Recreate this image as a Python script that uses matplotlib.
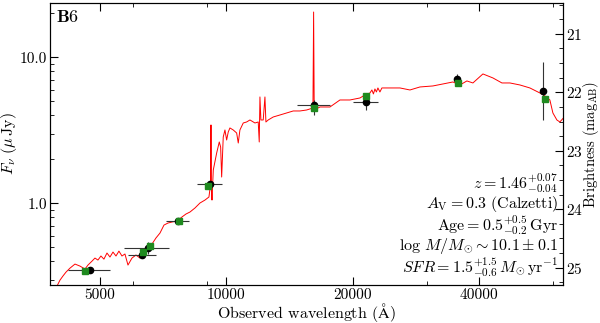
import numpy as np
import matplotlib
matplotlib.use("Agg")
import matplotlib.pyplot as plt
from matplotlib.ticker import FixedLocator, FixedFormatter, LogLocator, NullFormatter, MultipleLocator

plt.rcParams['font.family'] = 'serif'
plt.rcParams['font.serif'] = ['cmr10', 'DejaVu Serif']
plt.rcParams['mathtext.fontset'] = 'cm'
plt.rcParams['axes.unicode_minus'] = False
plt.rcParams['axes.formatter.use_mathtext'] = True

# model spectrum (Angstrom, microJy)
model_wave = [3906, 4014, 4080, 4148, 4240, 4358, 4479, 4604, 4680, 4784, 4863, 4943, 5025, 5108,
              5194, 5280, 5368, 5457, 5546, 5639, 5732, 5828, 5957, 6089, 6223, 6362, 6503, 6647,
              6794, 6946, 7100, 7257, 7418, 7624, 7834, 8009, 8187, 8414, 8648, 8889, 9085, 9162,
              9187, 9212, 9238, 9304, 9478, 9614, 9687, 9741, 9826, 9918, 10011, 10099, 10193,
              10380, 10576, 10669, 10767, 10965, 11171, 11376, 11692, 11904, 11970, 12016, 12080,
              12234, 12350, 12416, 12574, 12923, 13409, 13910, 14423, 14962, 15524, 16069, 16128,
              16181, 16696, 17640, 18632, 19679, 20791, 21370, 21963, 22203, 22387, 22573, 22757,
              22946, 23200, 23453, 24064, 25894, 27352, 28892, 31024, 32772, 34618, 35975, 37377,
              38629, 40808, 43106, 45290, 47315, 49981, 52796, 55770, 57320, 58909, 59893, 61219,
              62230, 63445]
model_flux = [0.255, 0.298, 0.318, 0.338, 0.360, 0.384, 0.372, 0.355, 0.378, 0.402, 0.422, 0.409,
              0.436, 0.415, 0.457, 0.429, 0.464, 0.436, 0.471, 0.436, 0.450, 0.378, 0.422, 0.443,
              0.422, 0.464, 0.494, 0.526, 0.579, 0.626, 0.710, 0.733, 0.745, 0.756, 0.806, 0.845,
              0.872, 0.929, 1.005, 1.053, 1.105, 1.335, 3.44, 1.233, 1.053, 1.691, 2.211, 2.630,
              2.430, 1.514, 2.845, 3.178, 2.714, 3.078, 3.281, 3.178, 3.030, 2.588, 3.178, 3.548,
              3.605, 3.721, 3.548, 3.605, 2.630, 5.348, 3.721, 3.721, 5.348, 3.605, 3.721, 3.900,
              4.025, 4.155, 4.288, 4.288, 4.355, 4.495, 20.4, 4.355, 4.566, 4.566, 5.099, 5.099,
              5.262, 5.517, 5.694, 5.970, 5.607, 6.066, 5.786, 6.163, 5.786, 6.163, 6.163, 6.163,
              5.970, 6.260, 6.361, 6.563, 6.773, 6.461, 6.883, 6.668, 7.686, 7.217, 6.668, 6.668,
              6.461, 6.163, 5.694, 5.432, 5.099, 4.155, 3.721, 3.605, 3.838]

# observed photometry
obs_wave = [4732, 6302, 6493, 7654, 9135, 16155, 21450, 35330, 56800]
obs_flux = [0.349, 0.440, 0.492, 0.756, 1.356, 4.713, 4.966, 7.068, 5.905]
obs_wave_lo = [4195, 5818, 5702, 7166, 8520, 14720, 20040, 35330, 56800]
obs_wave_hi = [5280, 6783, 7309, 8154, 9772, 17640, 22980, 35330, 56800]
obs_flux_lo = [0.335, 0.425, 0.450, 0.740, 1.320, 4.000, 4.350, 6.660, 3.720]
obs_flux_hi = [0.360, 0.455, 0.540, 0.770, 1.390, 5.100, 5.600, 7.690, 9.340]

# model fluxes in the filters
fit_wave = [4604, 6326, 6575, 7700, 9050, 16155, 21450, 35580, 57420]
fit_flux = [0.345, 0.466, 0.510, 0.760, 1.314, 4.474, 5.432, 6.636, 5.204]

xticks = [5000, 10000, 20000, 40000]
xtick_labels = ['5000', '10000', '20000', '40000']
xminor = [6000, 9000, 30000, 60000]
yticks = [1.0, 10.0]
ytick_labels = ['1.0', '10.0']

fit_info = [r'$z=1.46^{+0.07}_{-0.04}$',
            r'$A_{\rm V}=0.3\ ({\rm Calzetti})$',
            r'${\rm Age}=0.5^{+0.5}_{-0.2}\,{\rm Gyr}$',
            r'$\log\,M/M_{\odot}\sim10.1\pm0.1$',
            r'$SFR=1.5^{+1.5}_{-0.6}\,M_{\odot}\,{\rm yr}^{-1}$']

xlo, xhi = 3800, 63300
ylo, yhi = 0.276, 23.5

fig = plt.figure(figsize=(6, 3.23), dpi=100)
ax = fig.add_axes([0.0833, 0.1176, 0.855, 0.873])

ax.plot(model_wave, model_flux, color='red', lw=0.7, zorder=2)

xerr = [np.array(obs_wave) - np.array(obs_wave_lo), np.array(obs_wave_hi) - np.array(obs_wave)]
yerr = [np.array(obs_flux) - np.array(obs_flux_lo), np.array(obs_flux_hi) - np.array(obs_flux)]
ax.errorbar(obs_wave, obs_flux, xerr=xerr, yerr=yerr, fmt='o', color='black', ms=4.5,
            ecolor='#333333', elinewidth=0.8, capsize=0, zorder=3)
ax.plot(fit_wave, fit_flux, 's', color='#1f8a1f', ms=4, zorder=4)

ax.set_xscale('log')
ax.set_yscale('log')
ax.set_xlim(xlo, xhi)
ax.set_ylim(ylo, yhi)

ax.xaxis.set_major_locator(FixedLocator(xticks))
ax.xaxis.set_major_formatter(FixedFormatter(xtick_labels))
ax.xaxis.set_minor_locator(FixedLocator(xminor))
ax.xaxis.set_minor_formatter(NullFormatter())
ax.yaxis.set_major_locator(FixedLocator(yticks))
ax.yaxis.set_major_formatter(FixedFormatter(ytick_labels))
ax.yaxis.set_minor_locator(LogLocator(base=10, subs=np.arange(2, 10)))
ax.yaxis.set_minor_formatter(NullFormatter())
ax.tick_params(which='both', direction='in', top=True, labelsize=11)
ax.tick_params(which='major', length=6, pad=2)
ax.tick_params(which='minor', length=3)

ax.set_xlabel(r'Observed wavelength $({\rm \AA})$', fontsize=11.5)
ax.xaxis.set_label_coords(0.5, -0.058)
ax.set_ylabel(r'$F_{\nu}\ (\mu\,{\rm Jy})$', fontsize=11.5)
ax.yaxis.set_label_coords(-0.06, 0.5)

ax.text(0.012, 0.98, r'$\mathbf{B6}$', transform=ax.transAxes, fontsize=13,
        ha='left', va='top')

for i, line in enumerate(fit_info):
    ax.text(0.99, 0.362 - i * 0.0745, line, transform=ax.transAxes, fontsize=11.5,
            ha='right', va='center')

# magnitude axis on the right
ax2 = ax.twinx()
ax2.set_ylim(23.9 - 2.5 * np.log10(ylo), 23.9 - 2.5 * np.log10(yhi))
ax2.yaxis.set_major_locator(FixedLocator([21, 22, 23, 24, 25]))
ax2.yaxis.set_minor_locator(MultipleLocator(0.25))
ax2.tick_params(which='both', direction='in', labelsize=11)
ax2.tick_params(which='major', length=6, pad=2)
ax2.tick_params(which='minor', length=3)
ax2.set_ylabel(r'Brightness $({\rm mag}_{\rm AB})$', fontsize=10.5)
ax2.yaxis.set_label_coords(1.036, 0.5)

fig.savefig('out.png', dpi=100)
